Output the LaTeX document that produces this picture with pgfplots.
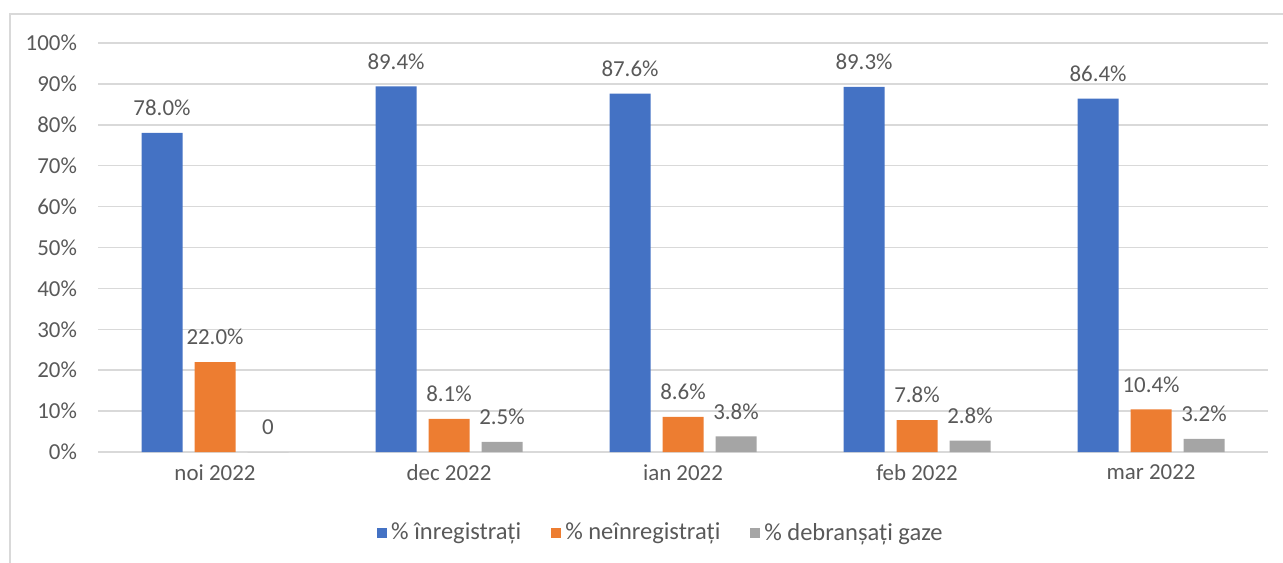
\documentclass[border=0pt]{standalone}
\usepackage{pgfplots}
\pgfplotsset{compat=1.18}
\usepackage{fontspec}
\setmainfont{Carlito}
\definecolor{cblue}{HTML}{4472C4}
\definecolor{corange}{HTML}{ED7D31}
\definecolor{cgray}{HTML}{A5A5A5}
\definecolor{gridgray}{HTML}{D9D9D9}
\definecolor{txt}{HTML}{595959}
\newcommand{\lblfont}{\fontsize{11.5}{13}\selectfont}
\newcommand{\legfont}{\fontsize{12.3}{14}\selectfont}
\begin{document}
\begin{tikzpicture}[x=1bp,y=1bp]
\useasboundingbox (0,0) rectangle (641.5,281);
\draw[color=gridgray, line width=0.75bp] (5,-10) rectangle (660,274);
\begin{axis}[
  at={(49bp,55bp)}, anchor=south west,
  scale only axis, width=585bp, height=204.5bp,
  xmin=-0.5, xmax=4.5, ymin=0, ymax=100,
  clip=false,
  ybar=6bp, bar width=20.5bp,
  axis line style={draw=none},
  major tick length=0,
  ytick={0,10,...,100},
  yticklabels={0\%,10\%,20\%,30\%,40\%,50\%,60\%,70\%,80\%,90\%,100\%},
  xtick={0,1,2,3,4},
  xticklabels={noi 2022,dec 2022,ian 2022,feb 2022,mar 2022},
  ymajorgrids,
  major grid style={draw=gridgray, line width=0.75bp},
  tick label style={font=\lblfont, text=txt},
  yticklabel style={xshift=-7bp},
  xticklabel style={yshift=-3bp},
  nodes near coords,
  point meta=explicit symbolic,
  nodes near coords style={font=\lblfont, text=txt, yshift=5bp},
  legend columns=3,
  legend style={at={(0.482,-0.198)}, anchor=center, draw=none, fill=none,
    font=\legfont, text=txt,
    /tikz/every even column/.style={column sep=13bp}},
  legend image code/.code={\fill[#1] (0bp,-2.5bp) rectangle (5bp,2.5bp);},
]
\addplot[fill=cblue, draw=none] coordinates {
  (0,78.0) [78.0\%]
  (1,89.4) [89.4\%]
  (2,87.6) [87.6\%]
  (3,89.3) [89.3\%]
  (4,86.4) [86.4\%]
};
\addplot[fill=corange, draw=none] coordinates {
  (0,22.0) [22.0\%]
  (1,8.1) [8.1\%]
  (2,8.6) [8.6\%]
  (3,7.8) [7.8\%]
  (4,10.4) [10.4\%]
};
\addplot[fill=cgray, draw=none] coordinates {
  (0,0) [0]
  (1,2.5) [2.5\%]
  (2,3.8) [3.8\%]
  (3,2.8) [2.8\%]
  (4,3.2) [3.2\%]
};
\legend{\% înregistrați,\% neînregistrați,\% debranșați gaze}
\end{axis}
\end{tikzpicture}
\end{document}
